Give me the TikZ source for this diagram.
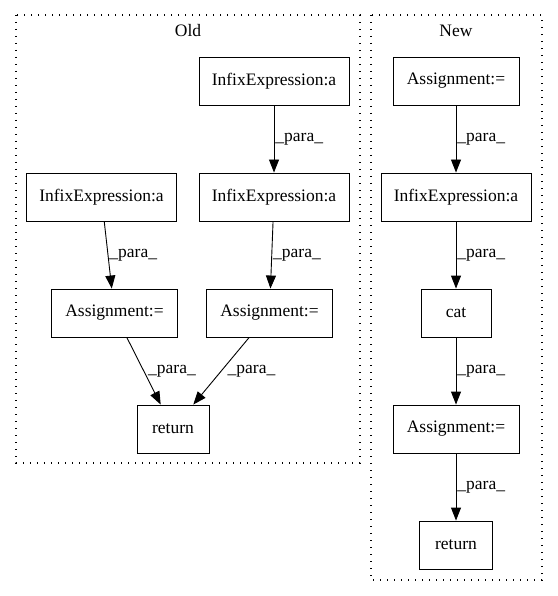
\documentclass[tikz,border=0pt]{standalone}
\usepackage{fontspec}
\setmainfont{Liberation Serif}
\usetikzlibrary{arrows.meta}

\begin{document}
\begin{tikzpicture}[x=1pt,y=1pt,yscale=-1,xscale=1,
  box/.style={draw, line width=0.9pt, inner sep=0pt, minimum height=48pt, font=\fontsize{17.5}{20}\selectfont},
  para/.style={-{Triangle[length=13pt,width=10pt]}, line width=0.9pt},
  lbl/.style={font=\fontsize{17.5}{20}\selectfont, inner sep=1pt, right},
  cluster/.style={line width=1.1pt, dash pattern=on 1.3pt off 5.7pt}]
\useasboundingbox (0,0) rectangle (557,596);

%Shape: Rectangle [Old]
\draw [cluster] (16,15) rectangle (360,463) ;
%Shape: Rectangle [New]
\draw [cluster] (371,15) rectangle (542,580) ;

% Text Node
\draw (188,31) node [font=\fontsize{17.5}{20}\selectfont] (oldlbl) {Old};
% Text Node
\draw (456,31) node [font=\fontsize{17.5}{20}\selectfont] (newlbl) {New};

% Old nodes
\node [box, minimum width=150pt] (oinfa) at (274,81) {InfixExpression:a};
\node [box, minimum width=150pt] (oinfb) at (101.5,197) {InfixExpression:a};
\node [box, minimum width=150pt] (oinfc) at (274,197) {InfixExpression:a};
\node [box, minimum width=126pt] (oasga) at (114.5,313) {Assignment:=};
\node [box, minimum width=126pt] (oasgb) at (269.5,313) {Assignment:=};
\node [box, minimum width=72pt] (oret) at (173,429) {return};

% New nodes
\node [box, minimum width=126pt] (nasga) at (456,81) {Assignment:=};
\node [box, minimum width=150pt] (ninf) at (456,197) {InfixExpression:a};
\node [box, minimum width=70pt] (ncat) at (456,313) {cat};
\node [box, minimum width=126pt] (nasgb) at (456,429) {Assignment:=};
\node [box, minimum width=73pt] (nret) at (456,545) {return};

% Old edges
\draw [para] (oinfa) -- (oinfc) node [lbl, midway] {\_para\_};
\draw [para] (oinfb) -- (oasga) node [lbl, midway] {\_para\_};
\draw [para] (oinfc) -- (oasgb) node [lbl, midway] {\_para\_};
\draw [para] (oasga) -- (oret) node [lbl, midway, xshift=3pt] {\_para\_};
\draw [para] (oasgb) -- (oret) node [lbl, midway, xshift=5pt] {\_para\_};

% New edges
\draw [para] (nasga) -- (ninf) node [lbl, midway] {\_para\_};
\draw [para] (ninf) -- (ncat) node [lbl, midway] {\_para\_};
\draw [para] (ncat) -- (nasgb) node [lbl, midway] {\_para\_};
\draw [para] (nasgb) -- (nret) node [lbl, midway] {\_para\_};
\end{tikzpicture}
\end{document}
